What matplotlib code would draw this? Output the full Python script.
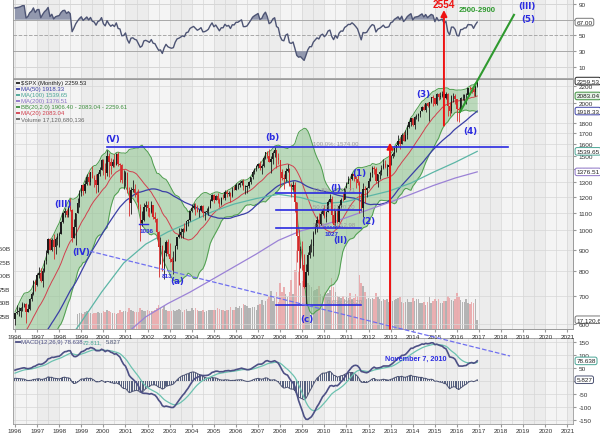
import numpy as np
import pandas as pd
import matplotlib
matplotlib.use('Agg')
import matplotlib.pyplot as plt
from matplotlib.ticker import FixedLocator, NullLocator, FuncFormatter
from matplotlib.transforms import blended_transform_factory

plt.rcParams['font.family'] = ['Liberation Sans', 'DejaVu Sans']

# monthly closes 1992-1995, only used so the indicators are warmed up at 1996
pre_close = [408.8, 412.7, 403.7, 414.9, 415.4, 408.1, 424.2, 414.0, 417.8, 418.7, 431.4, 435.7,
             438.8, 443.4, 451.7, 440.2, 450.2, 450.5, 448.1, 463.6, 458.9, 467.8, 461.8, 466.5,
             481.6, 467.1, 445.8, 450.9, 456.5, 444.3, 458.3, 475.5, 462.7, 472.4, 453.7, 459.3,
             470.4, 487.4, 500.7, 514.7, 533.4, 544.8, 562.1, 561.9, 584.4, 581.5, 605.4, 615.9]

# $SPX monthly, Jan 1996 .. Dec 2016
close = [636.0, 640.4, 645.5, 654.2, 669.1, 670.6, 639.9, 652.0, 687.3, 705.3, 757.0, 740.7,
         786.2, 790.8, 757.1, 801.3, 848.3, 885.1, 954.3, 899.5, 947.3, 914.6, 955.4, 970.4,
         980.3, 1049.3, 1101.8, 1111.8, 1090.8, 1133.8, 1120.7, 957.3, 1017.0, 1098.7, 1163.6, 1229.2,
         1279.6, 1238.3, 1286.4, 1335.2, 1301.8, 1372.7, 1328.7, 1320.4, 1282.7, 1362.9, 1388.9, 1469.3,
         1394.5, 1366.4, 1498.6, 1452.4, 1420.6, 1454.6, 1430.8, 1517.7, 1436.5, 1429.4, 1315.2, 1320.3,
         1366.0, 1239.9, 1160.3, 1249.5, 1255.8, 1224.4, 1211.2, 1133.6, 1040.9, 1059.8, 1139.5, 1148.1,
         1130.2, 1106.7, 1147.4, 1076.9, 1067.1, 989.8, 911.6, 916.1, 815.3, 885.8, 936.3, 879.8,
         855.7, 841.2, 848.2, 916.9, 963.6, 974.5, 990.3, 1008.0, 996.0, 1050.7, 1058.2, 1111.9,
         1131.1, 1144.9, 1126.2, 1107.3, 1120.7, 1140.8, 1101.7, 1104.2, 1114.6, 1130.2, 1173.8, 1211.9,
         1181.3, 1203.6, 1180.6, 1156.9, 1191.5, 1191.3, 1234.2, 1220.3, 1228.8, 1207.0, 1249.5, 1248.3,
         1280.1, 1280.7, 1294.8, 1310.6, 1270.1, 1270.2, 1276.7, 1303.8, 1335.9, 1377.9, 1400.6, 1418.3,
         1438.2, 1406.8, 1420.9, 1482.4, 1530.6, 1503.4, 1455.3, 1474.0, 1527.0, 1549.4, 1481.1, 1468.4,
         1378.6, 1330.6, 1322.7, 1385.6, 1400.4, 1280.0, 1267.4, 1282.8, 1166.4, 968.8, 896.2, 903.3,
         825.9, 735.1, 797.9, 872.8, 919.1, 919.3, 987.5, 1020.6, 1057.1, 1036.2, 1095.6, 1115.1,
         1073.9, 1104.5, 1169.4, 1186.7, 1089.4, 1030.7, 1101.6, 1049.3, 1141.2, 1183.3, 1180.6, 1257.6,
         1286.1, 1327.2, 1325.8, 1363.6, 1345.2, 1320.6, 1292.3, 1218.9, 1131.4, 1253.3, 1247.0, 1257.6,
         1312.4, 1365.7, 1408.5, 1397.9, 1310.3, 1362.2, 1379.3, 1406.6, 1440.7, 1412.2, 1416.2, 1426.2,
         1498.1, 1514.7, 1569.2, 1597.6, 1630.7, 1606.3, 1685.7, 1633.0, 1681.6, 1756.5, 1805.8, 1848.4,
         1782.6, 1859.5, 1872.3, 1884.0, 1923.6, 1960.2, 1930.7, 2003.4, 1972.3, 2018.1, 2067.6, 2058.9,
         1995.0, 2104.5, 2067.9, 2085.5, 2107.4, 2063.1, 2103.8, 1972.2, 1920.0, 2079.4, 2080.4, 2043.9,
         1940.2, 1932.2, 2059.7, 2065.3, 2097.0, 2098.9, 2173.6, 2171.0, 2168.3, 2126.2, 2198.8, 2259.53]

high = [636.2, 664.2, 657.0, 656.7, 678.5, 673.3, 672.7, 670.7, 690.9, 714.1, 762.1, 761.8,
        794.7, 817.4, 816.3, 812.9, 851.9, 898.7, 961.0, 960.3, 960.5, 983.1, 963.3, 986.3,
        992.7, 1050.0, 1105.7, 1130.5, 1123.0, 1145.2, 1190.6, 1121.3, 1066.1, 1102.6, 1192.0, 1244.9,
        1278.9, 1283.8, 1316.6, 1362.8, 1376.0, 1372.9, 1420.3, 1352.0, 1361.7, 1373.2, 1410.4, 1473.0,
        1478.0, 1444.5, 1552.9, 1527.2, 1481.5, 1474.6, 1517.3, 1525.2, 1530.1, 1448.7, 1437.0, 1389.1,
        1383.4, 1376.4, 1267.4, 1269.3, 1315.9, 1286.6, 1239.8, 1255.8, 1155.4, 1110.6, 1163.4, 1173.6,
        1176.6, 1130.2, 1173.0, 1147.8, 1106.6, 1070.7, 994.5, 965.0, 924.0, 901.0, 951.6, 954.3,
        935.1, 864.6, 895.9, 924.2, 965.4, 1015.3, 1015.4, 1011.0, 1040.3, 1053.8, 1063.4, 1112.6,
        1155.4, 1159.0, 1163.2, 1150.6, 1123.0, 1146.3, 1146.3, 1109.7, 1131.5, 1142.1, 1188.5, 1217.3,
        1217.8, 1212.2, 1229.1, 1191.9, 1199.6, 1219.6, 1245.2, 1245.9, 1243.1, 1233.3, 1270.6, 1275.8,
        1294.9, 1297.6, 1310.9, 1318.2, 1326.7, 1284.7, 1280.4, 1306.7, 1340.3, 1389.5, 1407.9, 1431.8,
        1441.6, 1461.6, 1438.9, 1498.0, 1535.6, 1540.6, 1555.9, 1503.9, 1538.7, 1576.1, 1545.0, 1523.6,
        1471.8, 1396.0, 1359.7, 1404.6, 1440.2, 1404.1, 1292.2, 1313.2, 1303.0, 1167.0, 1007.5, 918.9,
        943.9, 877.9, 833.0, 888.7, 930.2, 956.2, 996.7, 1039.5, 1080.2, 1101.4, 1113.7, 1130.4,
        1150.5, 1112.4, 1180.2, 1219.8, 1206.8, 1131.2, 1121.0, 1129.2, 1157.2, 1196.1, 1227.1, 1262.6,
        1302.7, 1344.1, 1332.3, 1366.6, 1370.6, 1345.2, 1356.5, 1307.4, 1229.3, 1292.7, 1277.6, 1269.4,
        1333.5, 1378.0, 1419.2, 1422.4, 1415.3, 1363.5, 1392.0, 1426.7, 1474.5, 1471.0, 1434.3, 1448.0,
        1509.9, 1530.9, 1570.3, 1597.6, 1687.2, 1654.2, 1698.8, 1709.7, 1729.9, 1775.2, 1813.6, 1849.4,
        1850.8, 1867.9, 1884.0, 1897.3, 1924.0, 1968.2, 1991.4, 2005.0, 2019.3, 2018.2, 2075.8, 2093.6,
        2064.4, 2119.6, 2117.5, 2125.9, 2134.7, 2129.9, 2132.8, 2112.7, 2020.9, 2094.3, 2116.5, 2104.3,
        2038.2, 1963.0, 2072.2, 2111.1, 2103.5, 2120.6, 2177.1, 2193.8, 2187.9, 2169.6, 2214.1, 2277.5]

low = [597.3, 633.7, 627.6, 624.3, 645.2, 658.2, 601.8, 639.7, 648.3, 680.1, 702.3, 716.7,
       737.0, 773.4, 756.0, 733.5, 798.0, 833.9, 881.1, 897.7, 891.7, 855.3, 877.6, 923.8,
       912.8, 979.0, 1042.0, 1076.7, 1074.0, 1074.8, 1112.0, 940.0, 957.3, 923.3, 1096.9, 1136.9,
       1206.3, 1212.2, 1228.5, 1282.0, 1281.4, 1279.6, 1328.5, 1268.6, 1225.2, 1233.7, 1342.6, 1387.4,
       1350.1, 1325.1, 1346.6, 1339.4, 1361.1, 1415.4, 1413.9, 1428.3, 1419.4, 1305.8, 1294.9, 1254.1,
       1274.6, 1228.4, 1081.2, 1092.0, 1232.0, 1203.0, 1165.5, 1125.0, 944.8, 1026.8, 1054.3, 1114.3,
       1081.7, 1074.4, 1101.0, 1063.5, 1049.0, 952.9, 775.7, 833.4, 800.2, 768.6, 872.1, 869.5,
       840.3, 806.3, 788.9, 847.9, 902.8, 960.8, 962.1, 960.8, 990.4, 995.3, 1025.0, 1053.4,
       1105.1, 1124.4, 1087.2, 1107.2, 1076.3, 1113.3, 1078.8, 1060.7, 1101.3, 1090.2, 1127.6, 1173.8,
       1163.8, 1180.1, 1163.7, 1136.2, 1146.2, 1188.3, 1183.6, 1201.1, 1205.3, 1168.2, 1201.1, 1246.6,
       1245.7, 1253.6, 1268.0, 1283.0, 1245.3, 1219.3, 1224.5, 1261.3, 1290.9, 1327.1, 1361.0, 1385.9,
       1404.0, 1389.4, 1364.0, 1416.4, 1476.7, 1484.2, 1454.3, 1370.6, 1439.3, 1489.6, 1406.1, 1435.7,
       1270.1, 1316.8, 1257.0, 1312.1, 1373.1, 1272.0, 1200.4, 1247.5, 1106.4, 839.8, 741.0, 815.7,
       804.3, 731.1, 666.8, 783.3, 862.5, 888.9, 869.3, 978.5, 992.3, 1020.0, 1029.4, 1085.9,
       1071.6, 1044.5, 1105.4, 1170.7, 1040.8, 1028.3, 1010.9, 1039.7, 1047.1, 1131.9, 1173.0, 1186.6,
       1257.6, 1294.7, 1249.1, 1314.6, 1311.8, 1258.1, 1282.9, 1101.5, 1114.2, 1074.8, 1158.7, 1202.4,
       1258.9, 1312.4, 1340.0, 1357.4, 1292.0, 1266.7, 1325.4, 1354.7, 1396.6, 1403.3, 1343.4, 1398.1,
       1426.2, 1485.0, 1501.5, 1536.0, 1581.3, 1560.3, 1604.6, 1627.5, 1633.4, 1646.5, 1746.2, 1768.0,
       1770.5, 1737.9, 1834.4, 1814.4, 1859.8, 1916.0, 1930.7, 1904.8, 1964.0, 1820.7, 2001.0, 1972.6,
       1980.9, 1981.0, 2039.7, 2048.4, 2067.9, 2056.3, 2044.0, 1867.0, 1871.9, 1893.7, 2019.4, 1993.3,
       1812.3, 1810.1, 1937.1, 2033.8, 2025.9, 1991.7, 2074.0, 2147.6, 2119.1, 2083.8, 2084.0, 2187.4]

# volume in billions, Nov 1998 .. Dec 2016
vol_first_month = '1998-11'
volume = [28, 29,
          30, 28, 31, 33, 30, 29, 28, 30, 29, 31, 29, 30,
          33, 32, 36, 34, 31, 30, 29, 28, 30, 35, 32, 34,
          34, 32, 38, 36, 33, 31, 32, 31, 38, 36, 34, 33,
          35, 33, 34, 34, 35, 38, 45, 38, 37, 42, 36, 33,
          34, 33, 36, 34, 35, 37, 36, 32, 36, 37, 33, 34,
          38, 35, 38, 35, 33, 33, 35, 32, 33, 36, 36, 35,
          36, 35, 38, 37, 35, 36, 34, 36, 36, 40, 36, 35,
          40, 38, 42, 38, 46, 45, 42, 38, 38, 40, 40, 36,
          45, 47, 54, 45, 52, 55, 62, 70, 52, 58, 68, 50,
          85, 68, 78, 65, 60, 68, 90, 65, 110, 146, 105, 85,
          88, 90, 100, 85, 82, 78, 70, 72, 75, 80, 65, 62,
          68, 64, 66, 72, 95, 78, 68, 62, 60, 58, 62, 55,
          60, 58, 66, 55, 58, 64, 62, 100, 85, 80, 68, 55,
          58, 56, 58, 56, 66, 60, 55, 52, 55, 54, 56, 50,
          55, 52, 54, 55, 58, 60, 50, 48, 50, 55, 50, 50,
          58, 52, 56, 55, 48, 48, 50, 44, 50, 60, 48, 52,
          56, 52, 55, 48, 48, 52, 52, 62, 58, 54, 52, 56,
          66, 60, 54, 50, 50, 56, 48, 46, 50, 48, 56, 17.12]

# long moving averages read at year ends (they need history before 1996)
ma100_years = [1997, 1998, 1999, 2000, 2001, 2002, 2003, 2004, 2005, 2006, 2007,
               2008, 2009, 2010, 2011, 2012, 2013, 2014, 2015, 2016]
ma100_vals = [508, 598, 714, 837, 928, 992, 1046, 1107, 1155, 1190, 1218,
              1197, 1158, 1168, 1203, 1239, 1295, 1373, 1450, 1539.65]
ma200_years = [2000, 2001, 2002, 2003, 2004, 2005, 2006, 2007, 2008,
               2009, 2010, 2011, 2012, 2013, 2014, 2015, 2016]
ma200_vals = [562, 624, 671, 714, 765, 820, 879, 947, 997,
              1028, 1069, 1116, 1164, 1218, 1277, 1331, 1376.51]

fib_levels = [1574.00, 1227.21, 1120.10, 1012.98, 666.20]
fib_names = ['100.0%', '61.8%', '50.0%', '38.2%', '0.0%']

waves = [('(V)', 2000.43, 1649), ('(III)', 1998.17, 1161), ('(IV)', 1998.99, 889),
         ('(a)', 2003.33, 759), ('(b)', 2007.63, 1666), ('(c)', 2009.21, 617),
         ('(I)', 2010.52, 1266), ('(II)', 2010.71, 954), ('(1)', 2011.57, 1374),
         ('(2)', 2011.97, 1058), ('(3)', 2014.46, 2109), ('(4)', 2016.59, 1722)]
small_marks = [('1036', 2001.97, 997), ('813', 2002.88, 780), ('1027', 2010.34, 986)]

# ---------------------------------------------------------------- indicators
n = len(close)
t = 1996 + np.arange(n) / 12.0
full = pd.Series(pre_close + close, dtype=float)
npre = len(pre_close)
ma20 = full.rolling(20).mean().values[npre:]
sd20 = full.rolling(20).std(ddof=0).values[npre:]
bb_up = ma20 + 2 * sd20
bb_lo = np.maximum(ma20 - 2 * sd20, 1.0)
ma50 = full.rolling(50, min_periods=45).mean().values[npre:]

delta = full.diff()
gain = delta.clip(lower=0).ewm(alpha=1 / 14, adjust=False).mean()
loss = (-delta.clip(upper=0)).ewm(alpha=1 / 14, adjust=False).mean()
rsi = (100 - 100 / (1 + gain / loss)).values[npre:]

ema12 = full.ewm(span=12, adjust=False).mean()
ema26 = full.ewm(span=26, adjust=False).mean()
macd_s = ema12 - ema26
signal_s = macd_s.ewm(span=9, adjust=False).mean()
macd = macd_s.values[npre:]
signal = signal_s.values[npre:]
hist = macd - signal

closes = np.array(close)
prev = np.array([pre_close[-1]] + close[:-1])
opens = prev
up = closes >= prev

v0 = (int(vol_first_month[:4]) - 1996) * 12 + int(vol_first_month[5:]) - 1
tv = t[v0:]
vol_up = up[v0:]

# ---------------------------------------------------------------- layout
W, H = 600, 435
fig = plt.figure(figsize=(6.0, 4.35), dpi=100)
fig.patch.set_facecolor('white')
x0, x1 = 1995.91, 2021.25
L, R = 13 / W, 560 / W

def rect(top, bottom):
    return [L, 1 - bottom / H, R, (bottom - top) / H]

ax_rsi = fig.add_axes(rect(0, 79))
ax_macd = fig.add_axes(rect(339, 425))
ax_vol = fig.add_axes(rect(80, 330))
ax = fig.add_axes(rect(80, 330), sharex=ax_vol)
ax.patch.set_visible(False)

BG = '#ececec'
for a in (ax_rsi, ax_macd, ax_vol):
    a.set_facecolor(BG)
    for yr in range(1995, 2022):
        if yr % 2 == 0:
            a.axvspan(yr, yr + 1, color='#f4f4f4', zorder=0, lw=0)
    for xx in np.arange(1996, 2021.5, 0.5):
        a.axvline(xx, color='#d6d6d6', lw=0.5, zorder=0.5)
    a.set_xlim(x0, x1)

for a in (ax_rsi, ax_macd, ax_vol, ax):
    for s in a.spines.values():
        s.set_color('#9a9a9a')
        s.set_linewidth(0.6)

years = list(range(1996, 2022))
tick_font = dict(fontsize=4.6, color='#333333')

# ---------------------------------------------------------------- RSI panel
ax_rsi.set_ylim(-4, 96.3)
for lvl, st, c in [(90, '-', '#d6d6d6'), (70, '-', '#a8a8a8'), (50, '--', '#a8a8a8'),
                   (30, '-', '#a8a8a8'), (10, '-', '#d6d6d6')]:
    ax_rsi.axhline(lvl, color=c, lw=0.7, ls=st, zorder=0.6)
ax_rsi.fill_between(t, rsi, 70, where=rsi > 70, interpolate=True, color='#9298ae', lw=0, zorder=1)
ax_rsi.fill_between(t, rsi, 30, where=rsi < 30, interpolate=True, color='#9298ae', lw=0, zorder=1)
ax_rsi.plot(t, rsi, color='#4d5474', lw=1.0, zorder=2)
ax_rsi.yaxis.tick_right()
ax_rsi.set_yticks([90, 70, 50, 30, 10])
ax_rsi.set_yticklabels(['90', '', '50', '30', '10'], **tick_font)
ax_rsi.tick_params(axis='y', length=2, pad=2, color='#999999')
ax_rsi.set_xticks(years)
ax_rsi.tick_params(axis='x', bottom=False, labelbottom=False)

# ---------------------------------------------------------------- volume (behind price)
ax_vol.set_ylim(0, 463)
ax_vol.bar(tv, volume, width=1 / 12 * 0.8,
           color=np.where(vol_up, '#a9a9a9', '#e9a3a6'), lw=0, zorder=1, alpha=0.85)
ax_vol.set_yticks([25, 50, 75, 100, 125, 150])
ax_vol.set_yticklabels(['25B', '50B', '75B', '100B', '125B', '150B'], **tick_font)
ax_vol.tick_params(axis='y', length=0, pad=2)
ax_vol.tick_params(axis='x', bottom=False, labelbottom=False)

# ---------------------------------------------------------------- price panel
ax.set_yscale('log')
ax.set_ylim(584, 2285)
ax.set_xlim(x0, x1)
price_ticks = [600, 700, 800, 900, 1000, 1100, 1200, 1300, 1400, 1500, 1600, 1700, 1800,
               2000, 2200]
ax.yaxis.tick_right()
ax.yaxis.set_major_locator(FixedLocator(price_ticks))
ax.yaxis.set_minor_locator(NullLocator())
ax.yaxis.set_major_formatter(FuncFormatter(lambda v, p: '%d' % v))
ax.tick_params(axis='y', length=2, pad=2, labelsize=4.6, labelcolor='#333333', color='#999999')
for v in price_ticks:
    ax.axhline(v, color='#d6d6d6', lw=0.5, zorder=0.2)
ax.set_xticks(years)
ax.set_xticklabels([str(y) for y in years], **tick_font)
ax.tick_params(axis='x', length=2, pad=1.5, color='#999999')

ax.fill_between(t, bb_lo, bb_up, color='#8cc48c', alpha=0.55, lw=0, zorder=1)
ax.plot(t, bb_up, color='#4e9e4e', lw=0.7, zorder=1.2)
ax.plot(t, bb_lo, color='#4e9e4e', lw=0.7, zorder=1.2)
ax.plot(t, ma20, color='#d2404e', lw=0.7, zorder=2)
ax.plot(t, ma50, color='#3a3fa6', lw=0.9, zorder=2)
ax.plot(np.array(ma100_years) + 11 / 12, ma100_vals, color='#5cb6a6', lw=0.9, zorder=2)
ax.plot(np.array(ma200_years) + 11 / 12, ma200_vals, color='#9b82d6', lw=0.9, zorder=2)

# candles
ccol = np.where(up, '#1c1c1c', '#d42a2a')
ax.vlines(t, low, high, colors=ccol, lw=0.6, zorder=3)
body_lo = np.minimum(opens, closes)
body_h = np.maximum(np.abs(closes - opens), 1.0)
ax.bar(t, body_h, bottom=body_lo, width=1 / 12 * 0.7, color=ccol, lw=0, zorder=3.1)

# fibonacci + wave annotations
BLUE = '#2a2ae0'
ax.plot([2000.16, 2018.31], [fib_levels[0], fib_levels[0]], color=BLUE, lw=1.2, zorder=4)
for lv in fib_levels[1:]:
    ax.plot([2007.81, 2011.66], [lv, lv], color=BLUE, lw=1.2, zorder=4)
for lv, nm in zip(fib_levels, fib_names):
    xx = 2009.5 if nm != '0.0%' else 2010.1
    ax.text(xx, lv * 1.006, '%s: %.2f' % (nm, lv), fontsize=4.3, color='#9a9a9a',
            va='bottom', ha='left', zorder=4.2)

for lab, xx, yy in waves:
    ax.text(xx, yy, lab, fontsize=6.3, color=BLUE, fontweight='bold', ha='center',
            va='center', zorder=5, family='DejaVu Sans')
for lab, xx, yy in small_marks:
    ax.text(xx, yy, lab, fontsize=4.5, color=BLUE, fontweight='bold', ha='center', va='center', zorder=5)
ax.plot([2001.6, 2002.0], [1036, 1036], color=BLUE, lw=1.0, zorder=5)
ax.plot([2010.0, 2010.8], [1022, 1022], color=BLUE, lw=0.8, ls=':', zorder=5)

# trend line, projection and arrows
ax.plot([1999.39, 2018.4], [893, 504], ls='--', color='#6f6ff0', lw=0.9, clip_on=False, zorder=5)
ax.plot([2016.14, 2018.58], [1910, 3243], color='#2f9a2f', lw=1.5, clip_on=False, zorder=5)
ax.text(2016.9, 3330, '2500-2900', color='#2f9a2f', fontsize=5.6, fontweight='bold',
        ha='center', va='center', clip_on=False, zorder=6)
ax.text(2019.17, 3420, '(III)', color=BLUE, fontsize=6.3, fontweight='bold', family='DejaVu Sans',
        ha='center', va='center', clip_on=False, zorder=6)
ax.text(2019.21, 3185, '(5)', color=BLUE, fontsize=6.3, fontweight='bold', family='DejaVu Sans',
        ha='center', va='center', clip_on=False, zorder=6)
ax.annotate('', xy=(2012.97, 1615), xytext=(2012.97, 584), annotation_clip=False,
            arrowprops=dict(arrowstyle='-|>', color='#ee1111', lw=1.4, mutation_scale=9,
                            shrinkA=0, shrinkB=0), zorder=6)
ax.annotate('', xy=(2015.41, 3330), xytext=(2015.41, 1772), annotation_clip=False,
            arrowprops=dict(arrowstyle='-|>', color='#ee1111', lw=1.4, mutation_scale=9,
                            shrinkA=0, shrinkB=0), zorder=6)
ax.text(2015.41, 3440, '2554', color='#ee1111', fontsize=7.2, fontweight='bold',
        ha='center', va='center', clip_on=False, zorder=6)

# legend block
legend_rows = [('$SPX (Monthly) 2259.53', '#222222'), ('MA(50) 1918.33', '#3a3fa6'),
               ('MA(100) 1539.65', '#4aa696'), ('MA(200) 1376.51', '#8b72c6'),
               ('BB(20,2.0) 1906.40 - 2083.04 - 2259.61', '#3d8f3d'), ('MA(20) 2083.04', '#d2404e'),
               ('Volume 17,120,680,136', '#666666')]
for i, (txt, c) in enumerate(legend_rows):
    yy = 1 - (84 + 6 * i - 80) / 250.0
    ax.plot([0.006, 0.013], [yy, yy], transform=ax.transAxes, color=c, lw=1.3, zorder=7,
            solid_capstyle='butt')
    ax.text(0.015, yy, txt, transform=ax.transAxes, fontsize=4.3, color=c, va='center',
            ha='left', zorder=7)

def value_box(a, y, txt, ec, fc='white', tc='#222222'):
    tr = blended_transform_factory(a.transAxes, a.transData)
    a.text(1.006, y, txt, transform=tr, fontsize=4.6, color=tc, va='center', ha='left',
           clip_on=False, zorder=8,
           bbox=dict(boxstyle='round,pad=0.2,rounding_size=0.3', fc=fc, ec=ec, lw=0.7))

value_box(ax, 2259.53, '2259.53', '#222222')
value_box(ax, 2083.04, '2083.04', '#3d8f3d', fc='#e6f2e6')
value_box(ax, 1918.33, '1918.33', '#3a3fa6')
value_box(ax, 1539.65, '1539.65', '#4aa696')
value_box(ax, 1376.51, '1376.51', '#8b72c6')
value_box(ax_vol, 17.12, '17,120,680,136', '#777777')
value_box(ax_rsi, 67.0, '67.00', '#777777')

# ---------------------------------------------------------------- MACD panel
ax_macd.set_ylim(-165, 167)
for lvl in [150, 100, 50, 0, -50, -100, -150]:
    ax_macd.axhline(lvl, color='#d6d6d6', lw=0.5, zorder=0.6)
ax_macd.bar(t, hist, width=1 / 12 * 0.55, color='#56607e', lw=0, zorder=1)
ax_macd.plot(t, hist, color='#4d5474', lw=0.7, zorder=1.1)
ax_macd.plot(t, signal, color='#6cc2b0', lw=0.9, zorder=2)
ax_macd.plot(t, macd, color='#4d5085', lw=1.2, zorder=2.1)
ax_macd.yaxis.tick_right()
ax_macd.set_yticks([150, 100, 50, 0, -50, -100, -150])
ax_macd.set_yticklabels(['150', '100', '50', '', '-50', '-100', '-150'], **tick_font)
ax_macd.tick_params(axis='y', length=2, pad=2, color='#999999')
ax_macd.set_xticks(years)
ax_macd.set_xticklabels([str(y) for y in years], **tick_font)
ax_macd.tick_params(axis='x', length=2, pad=0.8, color='#999999')
ax_macd.plot([0.006, 0.013], [0.955, 0.955], transform=ax_macd.transAxes, color='#4d5085', lw=1.3)
ax_macd.text(0.015, 0.955, 'MACD(12,26,9) 78.638,', transform=ax_macd.transAxes, fontsize=4.3,
             color='#4d5085', va='center', ha='left')
ax_macd.text(0.125, 0.955, '72.811,', transform=ax_macd.transAxes, fontsize=4.3,
             color='#4aa696', va='center', ha='left')
ax_macd.text(0.166, 0.955, '5.827', transform=ax_macd.transAxes, fontsize=4.3,
             color='#4d5474', va='center', ha='left')
ax_macd.text(2012.74, 87, 'November 7, 2010', color=BLUE, fontsize=5.2, fontweight='bold',
             ha='left', va='center', zorder=5)
value_box(ax_macd, 78.638, '78.638', '#4aa696')
value_box(ax_macd, 5.827, '5.827', '#4d5474')

fig.savefig('out.png', dpi=100)
